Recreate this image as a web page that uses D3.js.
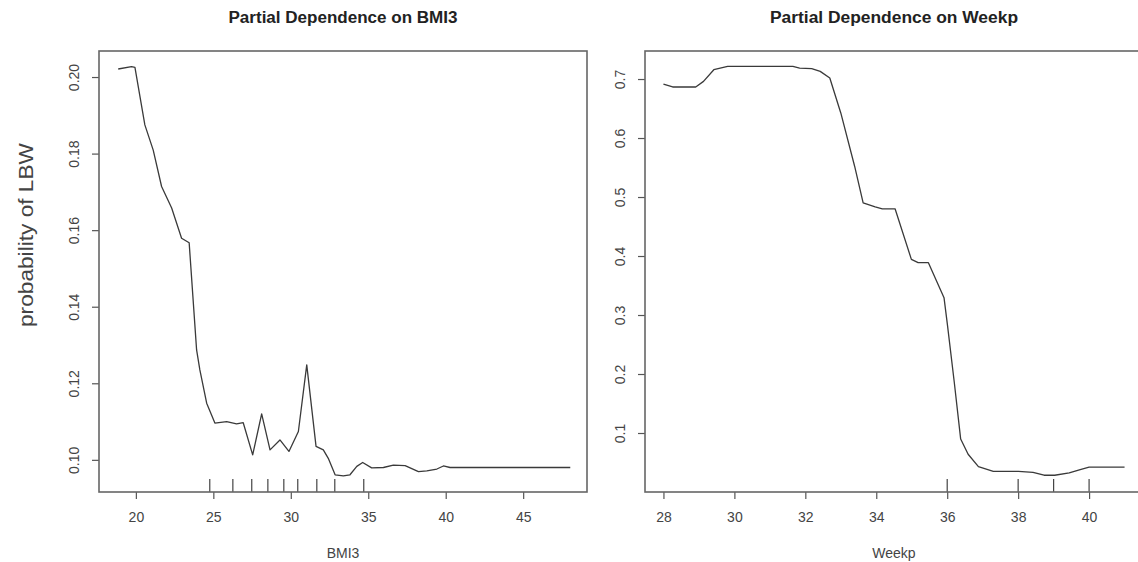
<!DOCTYPE html>
<html>
<head>
<meta charset="utf-8">
<script src="https://cdn.jsdelivr.net/npm/d3@7"></script>
<style>
  body { margin: 0; background: #fff; }
  svg { display: block; font-family: "Liberation Sans", Arial, sans-serif; }
</style>
</head>
<body>
<div id="chart"></div>
<script>
// partial dependence on BMI3
const bmiX = [18.86, 19.72, 19.94, 20.58, 21.12, 21.66, 22.31, 22.95, 23.44, 23.92, 24.13, 24.57, 25.10, 25.86,
  26.50, 26.93, 27.54, 28.12, 28.66, 29.30, 29.88, 30.49, 31.03, 31.63, 32.10, 32.42, 32.86, 33.39, 33.82,
  34.26, 34.64, 35.22, 35.98, 36.62, 37.38, 38.24, 38.78, 39.43, 39.85, 40.28, 48.04];
const bmiY = [0.2021, 0.2027, 0.2025, 0.1875, 0.1809, 0.1714, 0.1658, 0.1579, 0.1567, 0.1287, 0.1235, 0.1148,
  0.1096, 0.1100, 0.1094, 0.1097, 0.1013, 0.1120, 0.1026, 0.1052, 0.1022, 0.1074, 0.1248, 0.1035, 0.1026,
  0.1004, 0.0961, 0.0958, 0.0961, 0.0983, 0.0993, 0.0979, 0.0980, 0.0986, 0.0985, 0.0969, 0.0971, 0.0976,
  0.0984, 0.0980, 0.0980];
const bmiRug = [24.77, 26.26, 27.48, 28.52, 29.55, 30.45, 31.68, 32.84, 34.71];
const bmiTicksX = [20, 25, 30, 35, 40, 45];
const bmiTicksY = [0.10, 0.12, 0.14, 0.16, 0.18, 0.20];

// partial dependence on Weekp
const weekX = [28.0, 28.26, 28.91, 29.13, 29.42, 29.81, 31.65, 31.84, 32.18, 32.42, 32.69, 33.00, 33.39, 33.63,
  33.97, 34.17, 34.53, 34.99, 35.18, 35.47, 35.91, 36.01, 36.20, 36.38, 36.59, 36.88, 37.30, 38.01, 38.42,
  38.73, 39.03, 39.44, 39.75, 40.0, 41.0];
const weekY = [0.6915, 0.6865, 0.6865, 0.696, 0.7158, 0.7214, 0.7214, 0.7186, 0.7175, 0.713, 0.7017, 0.6425,
  0.5522, 0.4902, 0.4834, 0.48, 0.48, 0.3943, 0.3887, 0.3887, 0.3294, 0.2815, 0.1856, 0.0897, 0.0640, 0.0430,
  0.0351, 0.0351, 0.0334, 0.0284, 0.0284, 0.0323, 0.038, 0.042, 0.042];
const weekRug = [36, 38, 39, 40];
const weekTicksX = [28, 30, 32, 34, 36, 38, 40];
const weekTicksY = [0.1, 0.2, 0.3, 0.4, 0.5, 0.6, 0.7];

const W = 1138, H = 562;
const plotTop = 51, plotBottom = 492;

const svg = d3.select("#chart").append("svg")
  .attr("width", W)
  .attr("height", H);

function drawPanel(p) {
  const x = d3.scaleLinear().domain(p.xDomain).range([p.left, p.right]);
  const y = d3.scaleLinear().domain(p.yDomain).range([plotBottom, plotTop]);
  const g = svg.append("g");

  // x axis
  const xa = g.append("g")
    .attr("transform", `translate(0,${plotBottom})`)
    .call(d3.axisBottom(x).tickValues(p.ticksX).tickSize(7).tickPadding(0).tickFormat(d3.format("d")));
  xa.select(".domain").remove();
  xa.selectAll("line").attr("stroke", "#555").attr("stroke-width", 1.2);
  xa.selectAll("text")
    .attr("y", 30).attr("dy", null)
    .attr("fill", "#444")
    .style("font-size", "14px");

  // y axis, labels rotated like base R
  const ya = g.append("g")
    .attr("transform", `translate(${p.left},0)`)
    .call(d3.axisLeft(y).tickValues(p.ticksY).tickSize(7).tickFormat(p.fmtY));
  ya.select(".domain").remove();
  ya.selectAll("line").attr("stroke", "#555").attr("stroke-width", 1.2);
  ya.selectAll("text")
    .attr("x", null).attr("dy", null)
    .attr("transform", "translate(-20,0) rotate(-90)")
    .attr("text-anchor", "middle")
    .attr("fill", "#444")
    .style("font-size", "14px");

  // rug
  g.selectAll(".rug")
    .data(p.rug)
    .enter().append("line")
    .attr("class", "rug")
    .attr("x1", d => x(d)).attr("x2", d => x(d))
    .attr("y1", plotBottom).attr("y2", plotBottom - 13)
    .attr("stroke", "#444")
    .attr("stroke-width", 1.2);

  // curve
  const pts = p.xs.map((d, i) => [d, p.ys[i]]);
  g.append("path")
    .datum(pts)
    .attr("fill", "none")
    .attr("stroke", "#3a3a3a")
    .attr("stroke-width", 1.3)
    .attr("stroke-linejoin", "round")
    .attr("d", d3.line().x(d => x(d[0])).y(d => y(d[1])));

  // box
  g.append("rect")
    .attr("x", p.left).attr("y", plotTop)
    .attr("width", p.right - p.left).attr("height", plotBottom - plotTop)
    .attr("fill", "none")
    .attr("stroke", "#666")
    .attr("stroke-width", 1.6);

  // title
  g.append("text")
    .attr("x", (p.left + p.right) / 2)
    .attr("y", 23)
    .attr("text-anchor", "middle")
    .attr("fill", "#222")
    .style("font-size", "16px")
    .style("font-weight", "bold")
    .attr("textLength", p.titleLen)
    .attr("lengthAdjust", "spacingAndGlyphs")
    .text(p.title);

  // x label
  g.append("text")
    .attr("x", (p.left + p.right) / 2)
    .attr("y", 558)
    .attr("text-anchor", "middle")
    .attr("fill", "#444")
    .style("font-size", "14px")
    .text(p.xLabel);
}

drawPanel({
  left: 99, right: 587,
  xDomain: [17.62, 49.12], yDomain: [0.0916, 0.2068],
  xs: bmiX, ys: bmiY, rug: bmiRug,
  ticksX: bmiTicksX, ticksY: bmiTicksY, fmtY: d3.format(".2f"),
  title: "Partial Dependence on BMI3", titleLen: 229, xLabel: "BMI3"
});

drawPanel({
  left: 645, right: 1143,
  xDomain: [27.48, 41.52], yDomain: [0.0, 0.7475],
  xs: weekX, ys: weekY, rug: weekRug,
  ticksX: weekTicksX, ticksY: weekTicksY, fmtY: d3.format(".1f"),
  title: "Partial Dependence on Weekp", titleLen: 248, xLabel: "Weekp"
});

// shared y label on the left
svg.append("text")
  .attr("transform", "translate(33,235) rotate(-90)")
  .attr("text-anchor", "middle")
  .attr("fill", "#444")
  .style("font-size", "21px")
  .attr("textLength", 184)
  .attr("lengthAdjust", "spacingAndGlyphs")
  .text("probability of LBW");
</script>
</body>
</html>
